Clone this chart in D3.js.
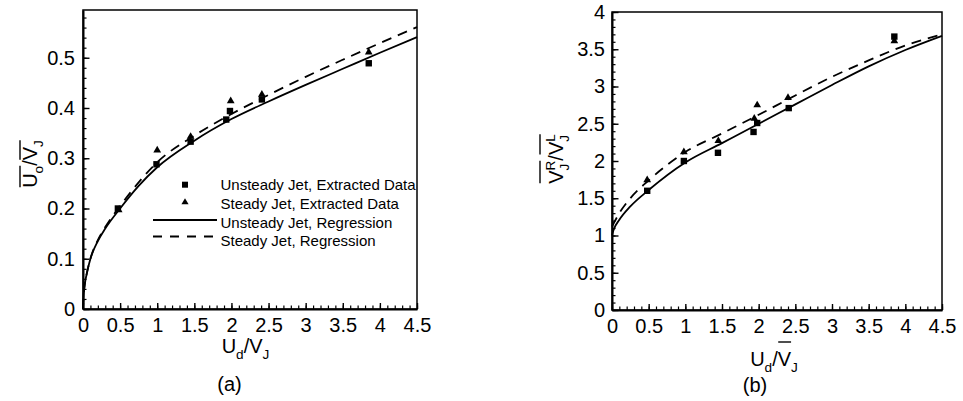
<!DOCTYPE html>
<html>
<head>
<meta charset="utf-8">
<script src="https://cdnjs.cloudflare.com/ajax/libs/d3/7.8.5/d3.min.js"></script>
<style>
  body { margin: 0; background: #fff; }
  svg { display: block; font-family: "Liberation Sans", Arial, Helvetica, sans-serif; }
  .axis text { font-size: 20px; fill: #000; }
  .axis path, .axis line { stroke: #000; }
</style>
</head>
<body>
<svg width="963" height="401"></svg>
<script>
// ---- data ----
var xTicks = [0, 0.5, 1, 1.5, 2, 2.5, 3, 3.5, 4, 4.5];
var yTicksA = [0, 0.1, 0.2, 0.3, 0.4, 0.5];
var yTicksB = [0, 0.5, 1, 1.5, 2, 2.5, 3, 3.5, 4];

// panel (a): U_o / V_J
var unsteadyPtsA = [[0.47, 0.2], [0.99, 0.288], [1.45, 0.333], [1.93, 0.377], [1.98, 0.394], [2.41, 0.417], [3.85, 0.489]];
var steadyPtsA = [[0.48, 0.197], [1.0, 0.316], [1.45, 0.343], [1.99, 0.414], [2.41, 0.427], [3.85, 0.511]];
var unsteadyRegA = [[0, 0], [0.01, 0.03], [0.025, 0.05], [0.05, 0.07], [0.1, 0.1], [0.2, 0.135], [0.3, 0.16], [0.5, 0.2],
  [0.75, 0.245], [1, 0.282], [1.5, 0.335], [2, 0.378], [2.5, 0.413], [3, 0.446], [3.5, 0.478], [4, 0.51], [4.5, 0.541]];
var steadyRegA = [[0, 0], [0.01, 0.03], [0.025, 0.05], [0.05, 0.07], [0.1, 0.1], [0.2, 0.137], [0.3, 0.163], [0.5, 0.205],
  [0.75, 0.252], [1, 0.292], [1.5, 0.345], [2, 0.388], [2.5, 0.426], [3, 0.462], [3.5, 0.496], [4, 0.529], [4.5, 0.561]];

// panel (b): V_J^R / V_J^L
var unsteadyPtsB = [[0.48, 1.6], [0.98, 2.0], [1.445, 2.11], [1.93, 2.39], [1.98, 2.51], [2.41, 2.71], [3.85, 3.67]];
var steadyPtsB = [[0.48, 1.745], [0.98, 2.12], [1.45, 2.27], [1.94, 2.57], [1.98, 2.75], [2.4, 2.85], [3.85, 3.61]];
var unsteadyRegB = [[0, 1.0], [0.02, 1.07], [0.1, 1.21], [0.25, 1.39], [0.5, 1.61], [1, 1.98], [1.5, 2.24], [2, 2.5],
  [2.5, 2.76], [3, 3.02], [3.5, 3.27], [4, 3.49], [4.5, 3.68]];
var steadyRegB = [[0, 1.12], [0.1, 1.3], [0.25, 1.5], [0.5, 1.74], [1, 2.12], [1.5, 2.37], [2, 2.62], [2.5, 2.88],
  [3, 3.13], [3.5, 3.35], [4, 3.55], [4.5, 3.7]];

var legendLabels = ["Unsteady Jet, Extracted Data", "Steady Jet, Extracted Data",
  "Unsteady Jet, Regression", "Steady Jet, Regression"];

var svg = d3.select("svg");

// text made of pieces (subscripts, superscripts, overlines), laid out by measuring
function richText(g, pieces, size, barY) {
  var x = 0, prevX = 0, bars = {};
  pieces.forEach(function(p) {
    var small = p.sub || p.sup;
    var fs = small ? size * 0.68 : size;
    var dy = p.sub ? size * 0.3 : (p.sup ? -size * 0.42 : 0);
    var px = p.stack ? prevX : x;
    var t = g.append("text").attr("x", px).attr("y", dy).style("font-size", fs + "px").text(p.t);
    var w = t.node().getComputedTextLength();
    if (!p.stack) { prevX = x; }
    x = Math.max(x, px + w);
    if (p.bar) {
      var b = bars[p.bar] || (bars[p.bar] = [px, px + w]);
      b[0] = Math.min(b[0], px);
      b[1] = Math.max(b[1], px + w);
    }
  });
  Object.keys(bars).forEach(function(k) {
    g.append("line").attr("x1", bars[k][0] + 0.5).attr("x2", bars[k][1])
      .attr("y1", barY).attr("y2", barY).attr("stroke", "#000").attr("stroke-width", 1.4);
  });
  return x;
}

function placeLabel(pieces, cx, by, rotate, barY) {
  var g = svg.append("g");
  var inner = g.append("g");
  var w = richText(inner, pieces, 20, barY);
  inner.attr("transform", "translate(" + (-w / 2) + ",0)");
  g.attr("transform", "translate(" + cx + "," + by + ")" + (rotate ? " rotate(-90)" : ""));
}

function panel(opt) {
  var x = d3.scaleLinear().domain([0, 4.5]).range([opt.left, opt.right]);
  var y = d3.scaleLinear().domain(opt.yDomain).range([opt.bottom, opt.top]);

  // minor ticks
  svg.append("g").attr("class", "axis")
    .attr("transform", "translate(0," + opt.bottom + ")")
    .call(d3.axisBottom(x).tickValues(d3.range(0, 4.5001, 0.1)).tickSize(-3.5).tickSizeOuter(0).tickFormat(""))
    .call(function(g) { g.select(".domain").remove(); g.selectAll("line").attr("stroke-width", 1.2); });
  svg.append("g").attr("class", "axis")
    .attr("transform", "translate(" + opt.left + ",0)")
    .call(d3.axisLeft(y).tickValues(d3.range(0, opt.yDomain[1] + 1e-9, opt.yMinor)).tickSize(-3.5).tickSizeOuter(0).tickFormat(""))
    .call(function(g) { g.select(".domain").remove(); g.selectAll("line").attr("stroke-width", 1.2); });

  // frame
  svg.append("rect").attr("x", opt.left).attr("y", opt.top)
    .attr("width", opt.right - opt.left).attr("height", opt.bottom - opt.top)
    .attr("fill", "none").attr("stroke", "#000").attr("stroke-width", 1.5);

  // major ticks and labels
  svg.append("g").attr("class", "axis")
    .attr("transform", "translate(0," + opt.bottom + ")")
    .call(d3.axisBottom(x).tickValues(xTicks).tickSize(-6).tickSizeOuter(0).tickPadding(9).tickFormat(d3.format("")))
    .call(function(g) { g.select(".domain").attr("stroke-width", 2); g.selectAll("line").attr("stroke-width", 1.4); });
  svg.append("g").attr("class", "axis")
    .attr("transform", "translate(" + opt.left + ",0)")
    .call(d3.axisLeft(y).tickValues(opt.yTicks).tickSize(-6.5).tickSizeOuter(0).tickPadding(opt.yPad).tickFormat(d3.format("")))
    .call(function(g) { g.select(".domain").attr("stroke-width", 2); g.selectAll("line").attr("stroke-width", 1.4); });

  var line = d3.line().curve(d3.curveMonotoneX)
    .x(function(d) { return x(d[0]); }).y(function(d) { return y(d[1]); });

  svg.append("path").datum(opt.steadyReg).attr("d", line)
    .attr("fill", "none").attr("stroke", "#000").attr("stroke-width", 1.8).attr("stroke-dasharray", "10,7");
  svg.append("path").datum(opt.unsteadyReg).attr("d", line)
    .attr("fill", "none").attr("stroke", "#000").attr("stroke-width", 1.8);

  var tri = d3.symbol().type(d3.symbolTriangle).size(26);
  svg.append("g").selectAll("path").data(opt.steadyPts).join("path")
    .attr("d", tri)
    .attr("transform", function(d) { return "translate(" + x(d[0]) + "," + y(d[1]) + ")"; })
    .attr("fill", "#000");
  svg.append("g").selectAll("rect").data(opt.unsteadyPts).join("rect")
    .attr("x", function(d) { return x(d[0]) - 3.2; })
    .attr("y", function(d) { return y(d[1]) - 3.2; })
    .attr("width", 6.4).attr("height", 6.4).attr("fill", "#000");
}

panel({
  left: 83, right: 417, top: 10, bottom: 309, yDomain: [0, 0.595], yTicks: yTicksA, yMinor: 0.02, yPad: 8,
  unsteadyPts: unsteadyPtsA, steadyPts: steadyPtsA, unsteadyReg: unsteadyRegA, steadyReg: steadyRegA
});
panel({
  left: 612, right: 942, top: 12, bottom: 310, yDomain: [0, 4], yTicks: yTicksB, yMinor: 0.1, yPad: 7,
  unsteadyPts: unsteadyPtsB, steadyPts: steadyPtsB, unsteadyReg: unsteadyRegB, steadyReg: steadyRegB
});

// legend in panel (a)
var legend = svg.append("g");
var legendY = [184.7, 203.3, 222, 240];
legend.append("rect").attr("x", 182).attr("y", legendY[0] - 3).attr("width", 6).attr("height", 6).attr("fill", "#000");
legend.append("path").attr("d", d3.symbol().type(d3.symbolTriangle).size(22))
  .attr("transform", "translate(185," + (legendY[1] - 1) + ")").attr("fill", "#000");
legend.append("line").attr("x1", 153).attr("x2", 217).attr("y1", legendY[2] - 2).attr("y2", legendY[2] - 2)
  .attr("stroke", "#000").attr("stroke-width", 1.8);
legend.append("line").attr("x1", 153).attr("x2", 217).attr("y1", legendY[3] - 3.5).attr("y2", legendY[3] - 3.5)
  .attr("stroke", "#000").attr("stroke-width", 1.8).attr("stroke-dasharray", "9,8");
legend.selectAll("text").data(legendLabels).join("text")
  .attr("x", 220.5).attr("y", function(d, i) { return legendY[i] + 5.5; })
  .style("font-size", "15px").text(function(d) { return d; });

// axis titles
placeLabel([{t: "U", bar: 1}, {t: "o", sub: true, bar: 1}, {t: "/"}, {t: "V", bar: 2}, {t: "J", sub: true, bar: 2}],
  37, 164, true, -17);
placeLabel([{t: "U"}, {t: "d", sub: true}, {t: "/"}, {t: "V"}, {t: "J", sub: true}], 245.5, 353, false, 0);
placeLabel([{t: "V", bar: 1}, {t: "J", sub: true, bar: 1}, {t: "R", sup: true, stack: true, bar: 1}, {t: "/"},
  {t: "V", bar: 2}, {t: "J", sub: true, bar: 2}, {t: "L", sup: true, stack: true, bar: 2}], 563, 159, true, -23);
placeLabel([{t: "U"}, {t: "d", sub: true}, {t: "/"}, {t: "V", bar: 1}, {t: "J", sub: true}], 774, 366, false, -24);

svg.append("text").attr("x", 229.5).attr("y", 391).attr("text-anchor", "middle").style("font-size", "20px").text("(a)");
svg.append("text").attr("x", 755).attr("y", 392).attr("text-anchor", "middle").style("font-size", "20px").text("(b)");
</script>
</body>
</html>
